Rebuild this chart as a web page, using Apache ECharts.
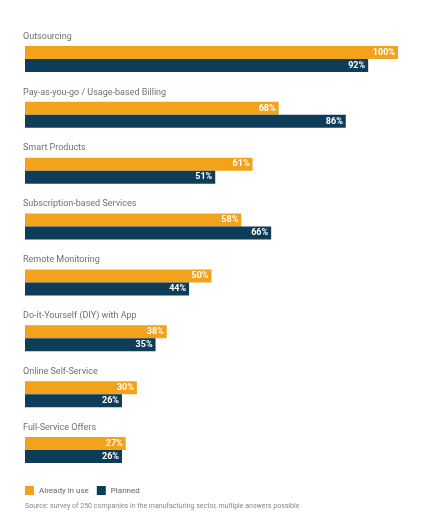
<!DOCTYPE html>
<html>
<head>
<meta charset="utf-8">
<script src="https://cdn.jsdelivr.net/npm/echarts@6/dist/echarts.min.js"></script>
<style>
  html, body { margin: 0; padding: 0; background: #fff; }
  #chart { width: 426px; height: 518px; }
</style>
</head>
<body>
<div id="chart"></div>
<script>
// Business models by adoption status (share of companies, %)
const categories = [
  'Outsourcing',
  'Pay-as-you-go / Usage-based Billing',
  'Smart Products',
  'Subscription-based Services',
  'Remote Monitoring',
  'Do-it-Yourself (DIY) with App',
  'Online Self-Service',
  'Full-Service Offers'
];
const seriesNames = ['Already in use', 'Planned'];
const inUse = [100, 68, 61, 58, 50, 38, 30, 27];
const planned = [92, 86, 51, 66, 44, 35, 26, 26];
const sourceNote = 'Source: survey of 250 companies in the manufacturing sector, multiple answers possible';

const chart = echarts.init(document.getElementById('chart'));
const valueLabel = {
  show: true,
  position: 'insideRight',
  color: '#fff',
  fontSize: 9,
  fontWeight: 'bold',
  fontFamily: 'Roboto',
  distance: 3,
  formatter: p => p.value + '%'
};
chart.setOption({
  animation: false,
  textStyle: { fontFamily: 'Roboto' },
  title: {
    text: sourceNote,
    left: 20,
    top: 498,
    textStyle: { fontSize: 7, fontWeight: 'normal', color: '#888' }
  },
  legend: {
    left: 20,
    top: 481,
    icon: 'rect',
    itemWidth: 9,
    itemHeight: 9,
    itemGap: 8,
    textStyle: { fontSize: 8, color: '#666' },
    data: seriesNames
  },
  grid: { left: 25, right: 28, top: 31, bottom: 40 },
  xAxis: {
    type: 'value',
    min: 0,
    max: 100,
    show: false
  },
  yAxis: {
    type: 'category',
    data: categories,
    inverse: true,
    axisLine: { show: false },
    axisTick: { show: false },
    axisLabel: {
      inside: true,
      margin: -2,
      align: 'left',
      verticalAlign: 'bottom',
      padding: [0, 0, 18, 0],
      fontSize: 9,
      color: '#707070'
    }
  },
  series: [
    {
      name: seriesNames[0],
      type: 'bar',
      data: inUse,
      barWidth: 13,
      barGap: '0%',
      itemStyle: { color: '#F2A21B' },
      label: valueLabel
    },
    {
      name: seriesNames[1],
      type: 'bar',
      data: planned,
      barWidth: 13,
      itemStyle: { color: '#0E3D5A' },
      label: valueLabel
    }
  ]
});
</script>
</body>
</html>
